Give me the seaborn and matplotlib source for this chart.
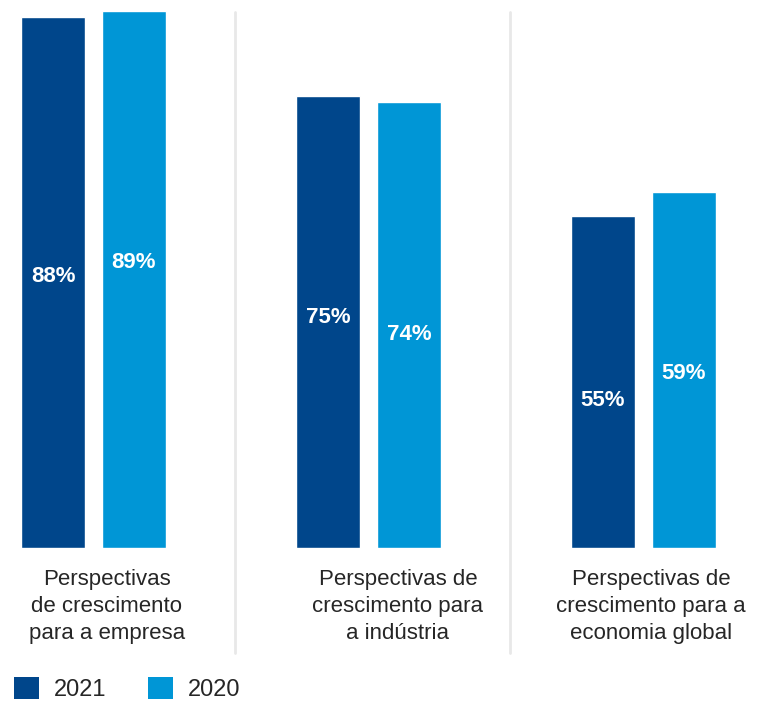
import matplotlib
matplotlib.use("Agg")
import matplotlib.pyplot as plt
import seaborn as sns
import pandas as pd
from matplotlib.patches import Patch

categories = [
    "Perspectivas\nde crescimento\npara a empresa",
    "Perspectivas de\ncrescimento para\na indústria",
    "Perspectivas de\ncrescimento para a\neconomia global",
]
series = ["2021", "2020"]
values_2021 = [88, 75, 55]
values_2020 = [89, 74, 59]

colors = {"2021": "#00468B", "2020": "#0096D6"}
# label vertical nudges in pixels (style only)
label_shift = {"2021": [6, 4, -18], "2020": [17, -10, -3]}
cat_label_dx = [0.049, 0.107, 0.027]

df = pd.DataFrame({
    "cat": list(range(len(categories))) * 2,
    "year": ["2021"] * 3 + ["2020"] * 3,
    "value": values_2021 + values_2020,
})

sns.set_theme(style="white")
plt.rcParams["font.family"] = ["Liberation Sans", "DejaVu Sans"]

fig = plt.figure(figsize=(7.62, 7.03), dpi=100)
ax = fig.add_axes([0, 155 / 703, 1, 548 / 703])

sns.barplot(data=df, x="cat", y="value", hue="year", hue_order=series,
            palette=colors, width=0.589, gap=0.21, ax=ax, legend=False,
            saturation=1, native_scale=True)

ax.set_xlim(-93.5 / 275, (762 - 93.5) / 275)
ax.set_ylim(0, 548 / 6.03)
ax.set_axis_off()

# value labels
for container, yr in zip(ax.containers, series):
    for bar, shift in zip(container, label_shift[yr]):
        h = bar.get_height()
        ax.annotate(f"{h:.0f}%", (bar.get_x() + bar.get_width() / 2, h / 2),
                    xytext=(0, shift), textcoords="offset pixels",
                    ha="center", va="center", color="white",
                    fontsize=16, fontweight="bold")

# separators
for xs in [0.5, 1.5]:
    ax.axvline(xs + 0.013, ymin=(548 - 653) / 548, ymax=(548 - 12) / 548,
               color="#e8e8e8", lw=2, clip_on=False)

# category labels
for i, (lab, dx) in enumerate(zip(categories, cat_label_dx)):
    ax.text(i + dx, -21 / 548, lab, transform=ax.get_xaxis_transform(),
            ha="center", va="top", fontsize=16, color="#262626",
            linespacing=1.38, multialignment="center")

# legend
handles = [Patch(facecolor=colors[s], edgecolor="none") for s in series]
fig.legend(handles, series, loc="lower left", bbox_to_anchor=(14 / 762, 2 / 703),
           ncol=2, frameon=False, fontsize=17, handlelength=1.05,
           handleheight=1.05, handletextpad=0.65, columnspacing=1.75,
           borderpad=0, borderaxespad=0, labelcolor="#262626")

fig.savefig("out.png", dpi=100)
